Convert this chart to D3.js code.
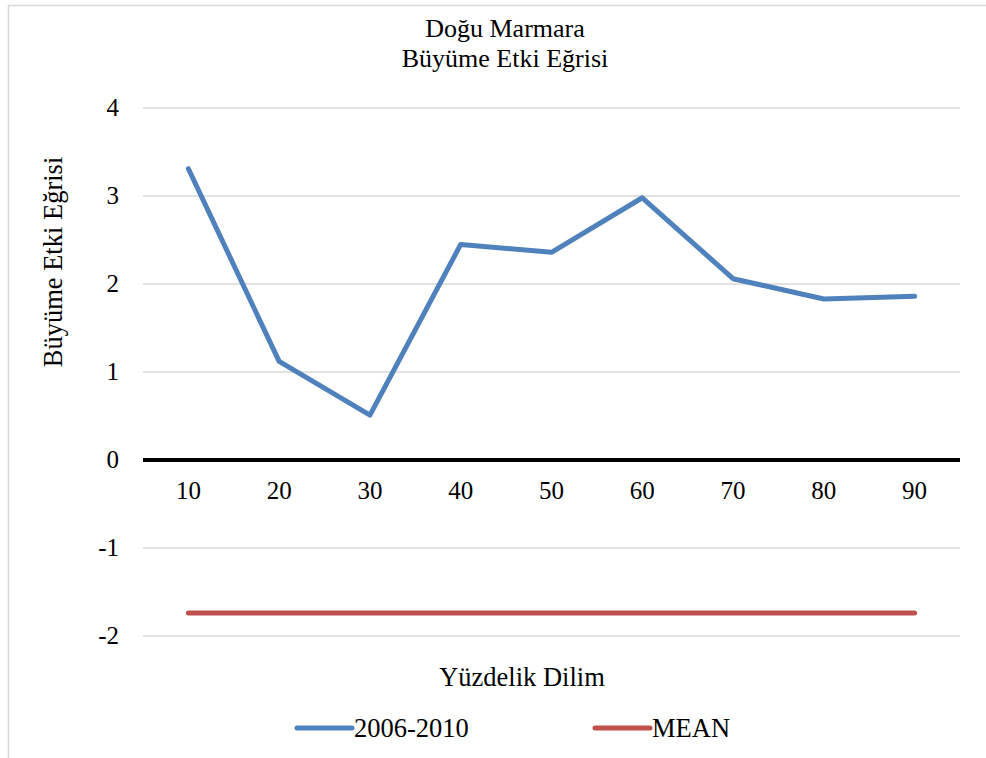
<!DOCTYPE html>
<html>
<head>
<meta charset="utf-8">
<script src="https://cdn.jsdelivr.net/npm/d3@7"></script>
<style>
  html, body { margin: 0; padding: 0; background: #fff; }
  svg { display: block; }
  text { font-family: "Liberation Serif", "Times New Roman", serif; fill: #000; }
</style>
</head>
<body>
<div id="chart"></div>
<script>
// data
const categories = ['10', '20', '30', '40', '50', '60', '70', '80', '90'];
const series2006 = [3.31, 1.12, 0.51, 2.45, 2.36, 2.98, 2.06, 1.83, 1.86];
const meanValue = -1.74;
const yTicks = [-2, -1, 0, 1, 2, 3, 4];
const titleLines = ['Doğu Marmara', 'Büyüme Etki Eğrisi'];

const width = 986;
const height = 758;
const plot = { left: 143, right: 960, top: 108, bottom: 636 };

const svg = d3.select('#chart')
  .append('svg')
  .attr('width', width)
  .attr('height', height);

// chart frame (only left and top edges visible)
svg.append('rect')
  .attr('x', 8.5)
  .attr('y', 5.5)
  .attr('width', width + 20)
  .attr('height', height + 20)
  .attr('fill', 'none')
  .attr('stroke', '#d9d9d9')
  .attr('stroke-width', 1.5);

const x = d3.scaleBand()
  .domain(categories)
  .range([plot.left, plot.right]);

const y = d3.scaleLinear()
  .domain([-2, 4])
  .range([plot.bottom, plot.top]);

// gridlines
svg.append('g')
  .selectAll('line')
  .data(yTicks.filter(d => d !== 0))
  .enter()
  .append('line')
  .attr('x1', plot.left)
  .attr('x2', plot.right)
  .attr('y1', d => y(d))
  .attr('y2', d => y(d))
  .attr('stroke', '#d9d9d9')
  .attr('stroke-width', 1.5);

// y tick labels
svg.append('g')
  .selectAll('text')
  .data(yTicks)
  .enter()
  .append('text')
  .attr('x', 119)
  .attr('y', d => y(d) + 8)
  .attr('text-anchor', 'end')
  .style('font-size', '25px')
  .text(d => d);

// mean line
const line = d3.line()
  .x((d, i) => x(categories[i]) + x.bandwidth() / 2)
  .y(d => y(d));

svg.append('path')
  .datum(categories.map(() => meanValue))
  .attr('d', line)
  .attr('fill', 'none')
  .attr('stroke', '#c0504d')
  .attr('stroke-width', 5)
  .attr('stroke-linecap', 'round');

// zero axis
svg.append('line')
  .attr('x1', plot.left)
  .attr('x2', plot.right)
  .attr('y1', y(0))
  .attr('y2', y(0))
  .attr('stroke', '#000')
  .attr('stroke-width', 4);

// x tick labels
svg.append('g')
  .selectAll('text')
  .data(categories)
  .enter()
  .append('text')
  .attr('x', d => x(d) + x.bandwidth() / 2)
  .attr('y', 499)
  .attr('text-anchor', 'middle')
  .style('font-size', '25px')
  .text(d => d);

// main series
svg.append('path')
  .datum(series2006)
  .attr('d', line)
  .attr('fill', 'none')
  .attr('stroke', '#4f81bd')
  .attr('stroke-width', 5)
  .attr('stroke-linecap', 'round')
  .attr('stroke-linejoin', 'round');

// title
svg.append('g')
  .selectAll('text')
  .data(titleLines)
  .enter()
  .append('text')
  .attr('x', 505)
  .attr('y', (d, i) => 37 + i * 30)
  .attr('text-anchor', 'middle')
  .style('font-size', '26px')
  .text(d => d);

// axis titles
svg.append('text')
  .attr('transform', 'translate(62,262) rotate(-90)')
  .attr('text-anchor', 'middle')
  .style('font-size', '26.5px')
  .text('Büyüme Etki Eğrisi');

svg.append('text')
  .attr('x', 522)
  .attr('y', 686)
  .attr('text-anchor', 'middle')
  .style('font-size', '26.5px')
  .text('Yüzdelik Dilim');

// legend
const legendItems = [
  { name: '2006-2010', color: '#4f81bd', x: 297 },
  { name: 'MEAN', color: '#c0504d', x: 595 }
];

const legend = svg.append('g')
  .selectAll('g')
  .data(legendItems)
  .enter()
  .append('g')
  .attr('transform', d => 'translate(' + d.x + ',728)');

legend.append('line')
  .attr('x1', 0)
  .attr('x2', 55)
  .attr('stroke', d => d.color)
  .attr('stroke-width', 5)
  .attr('stroke-linecap', 'round');

legend.append('text')
  .attr('x', 57)
  .attr('y', 9)
  .style('font-size', '26.5px')
  .text(d => d.name);
</script>
</body>
</html>
